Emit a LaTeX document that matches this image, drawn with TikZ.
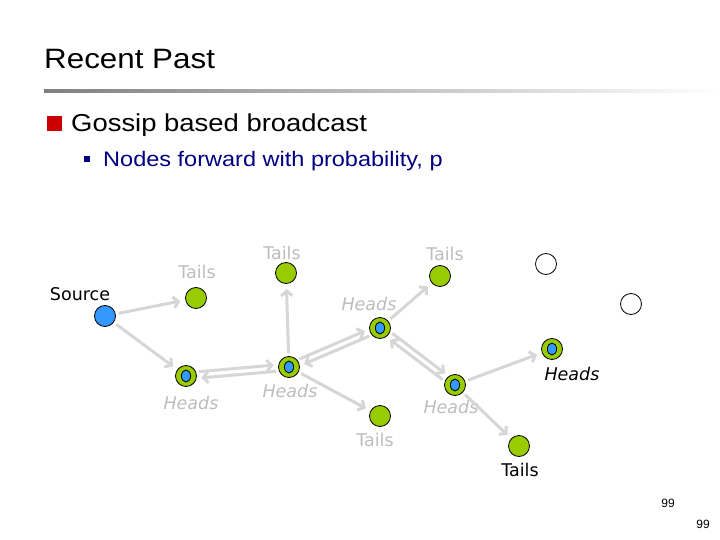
\documentclass[tikz,border=0pt]{standalone}
\usepackage{fontspec}
\setmainfont{Liberation Sans}
\newfontfamily\slidefont[FakeStretch=1.12]{Liberation Sans}
\newfontfamily\labelfont{DejaVu Sans}
\usetikzlibrary{arrows.meta,calc}
\definecolor{leafgreen}{HTML}{99CC00}
\definecolor{msgblue}{HTML}{3399FF}
\definecolor{pastgray}{HTML}{BDBDBD}
\definecolor{linkgray}{HTML}{D6D6D6}
\definecolor{bulletred}{HTML}{CC0000}
\definecolor{subnavy}{HTML}{000080}

\begin{document}
\begin{tikzpicture}[x=1pt, y=-1pt,
    peer/.style={circle, draw=black, line width=0.8pt, minimum size=21pt, inner sep=0pt},
    tails/.style={peer, fill=leafgreen},
    heads/.style={peer, fill=leafgreen,
        path picture={\draw[line width=0.8pt, fill=msgblue]
            (path picture bounding box.center) ellipse (4.6pt and 6pt);}},
    idle/.style={peer, fill=white},
    gossip/.style={draw=linkgray, line width=3pt,
        -{Straight Barb[length=5pt,width=11pt]}, shorten <=3pt, shorten >=5pt},
    twin/.style={gossip, shorten <=13pt, shorten >=15pt},
    tlbl/.style={inner sep=0pt, text=pastgray, font=\labelfont\fontsize{17.5}{17.5}\selectfont},
    hlbl/.style={inner sep=0pt, text=pastgray, font=\labelfont\itshape\fontsize{17.5}{17.5}\selectfont}]
\useasboundingbox (0,0) rectangle (720,540);

% ========= 标题 =========
\node[anchor=base west, inner sep=0pt, font=\slidefont\fontsize{28}{28}\selectfont]
    (title) at (44,69) {Recent Past};
\shade[left color=black!50, right color=white] (44,90) rectangle (720,93);

% 一级、二级条目
\fill[bulletred] (47,116) rectangle (62,131);
\node[anchor=base west, inner sep=0pt, font=\slidefont\fontsize{24.5}{24.5}\selectfont]
    (item) at (71,132) {Gossip based broadcast};
\fill[subnavy] (84,156) rectangle (90,162);
\node[anchor=base west, inner sep=0pt, text=subnavy, font=\slidefont\fontsize{21}{21}\selectfont]
    (subitem) at (103,167) {Nodes forward with probability, p};

% ========= 节点 =========
\node[peer, fill=msgblue] (src) at (105,316) {};
\node[tails] (t1) at (196,298) {};
\node[tails] (t2) at (286,273) {};
\node[heads] (h1) at (186,376) {};
\node[heads] (h2) at (289,367) {};
\node[heads] (h3) at (380,328) {};
\node[tails] (t3) at (440,276) {};
\node[tails] (t4) at (380,416) {};
\node[heads] (h4) at (455,385) {};
\node[heads] (h5) at (552,349) {};
\node[tails] (t5) at (519,446) {};
\node[idle] (i1) at (546,264) {};
\node[idle] (i2) at (631,304) {};

% 标签
\node[tlbl, text=black] (lsrc) at (80,294) {Source};
\node[tlbl] (lt1) at (197,272) {Tails};
\node[tlbl] (lt2) at (282,253) {Tails};
\node[hlbl] (lh1) at (191,403) {Heads};
\node[hlbl] (lh2) at (290,391) {Heads};
\node[hlbl] (lh3) at (369,304) {Heads};
\node[tlbl] (lt3) at (445,254) {Tails};
\node[tlbl] (lt4) at (375,440) {Tails};
\node[hlbl] (lh4) at (451,407) {Heads};
\node[hlbl, text=black] (lh5) at (572,374) {Heads};
\node[tlbl, text=black] (lt5) at (520,470) {Tails};

% ========= 转发箭头 =========
\draw[gossip] (src) -- (t1);
\draw[gossip] (src) -- (h1);
\draw[gossip] (h2) -- (t2);
\draw[gossip] (h2) -- (t4);
\draw[gossip] (h3) -- (t3);
\draw[gossip] (h4) -- (h5);
\draw[gossip] (h4) -- (t5);

% 双向：两条平行线
\draw[twin] ($(h1)!3.2pt!90:(h2)$) -- ($(h2)!3.2pt!-90:(h1)$);
\draw[twin] ($(h2)!3.2pt!90:(h1)$) -- ($(h1)!3.2pt!-90:(h2)$);
\draw[twin] ($(h2)!3.2pt!90:(h3)$) -- ($(h3)!3.2pt!-90:(h2)$);
\draw[twin] ($(h3)!3.2pt!90:(h2)$) -- ($(h2)!3.2pt!-90:(h3)$);
\draw[twin] ($(h3)!3.2pt!90:(h4)$) -- ($(h4)!3.2pt!-90:(h3)$);
\draw[twin] ($(h4)!3.2pt!90:(h3)$) -- ($(h3)!3.2pt!-90:(h4)$);

% 页码
\node[inner sep=0pt, font=\fontsize{12}{12}\selectfont] (pg1) at (668,503) {99};
\node[inner sep=0pt, font=\fontsize{12}{12}\selectfont] (pg2) at (703,524) {99};
\end{tikzpicture}
\end{document}
